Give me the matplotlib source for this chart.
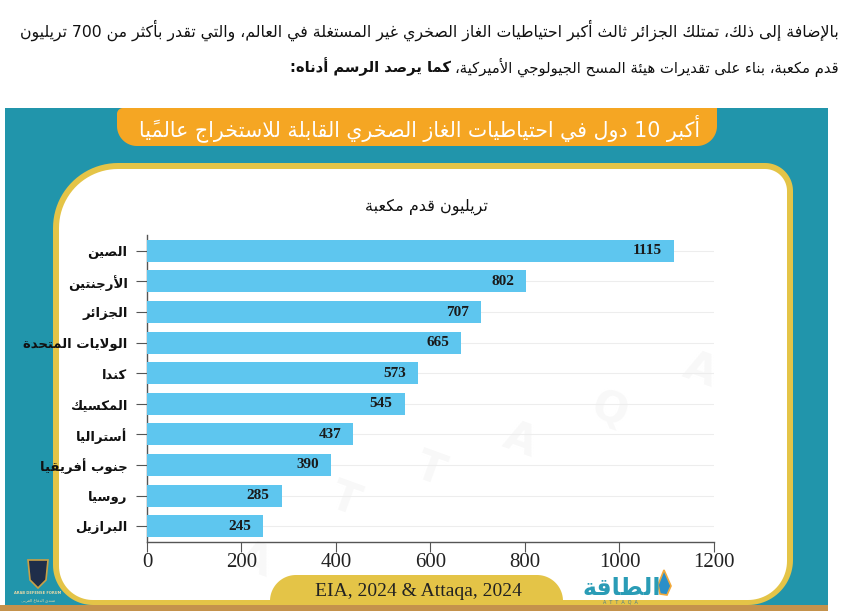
import numpy as np
import matplotlib
matplotlib.use("Agg")
import matplotlib.pyplot as plt
from matplotlib.patches import Polygon, Rectangle

# ---------------- data ----------------
countries = ["الصين", "الأرجنتين", "الجزائر", "الولايات المتحدة", "كندا",
             "المكسيك", "أستراليا", "جنوب أفريقيا", "روسيا", "البرازيل"]
reserves = [1115, 802, 707, 665, 573, 545, 437, 390, 285, 245]
x_ticks = [0, 200, 400, 600, 800, 1000, 1200]

title_text = "أكبر 10 دول في احتياطيات الغاز الصخري القابلة للاستخراج عالميًا"
unit_text = "تريليون قدم مكعبة"
para_line1 = "بالإضافة إلى ذلك، تمتلك الجزائر ثالث أكبر احتياطيات الغاز الصخري غير المستغلة في العالم، والتي تقدر بأكثر من 700 تريليون"
para_line2_normal = "قدم مكعبة، بناء على تقديرات هيئة المسح الجيولوجي الأميركية،"
para_line2_bold = "كما يرصد الرسم أدناه:"
source_text = "EIA, 2024 & Attaqa, 2024"
logo_text = "الطاقة"

# ---------------- minimal Arabic shaping ----------------
_T = {0x0621: (0xFE80, 1), 0x0622: (0xFE81, 2), 0x0623: (0xFE83, 2), 0x0624: (0xFE85, 2),
      0x0625: (0xFE87, 2), 0x0626: (0xFE89, 4), 0x0627: (0xFE8D, 2), 0x0628: (0xFE8F, 4),
      0x0629: (0xFE93, 2), 0x062A: (0xFE95, 4), 0x062B: (0xFE99, 4), 0x062C: (0xFE9D, 4),
      0x062D: (0xFEA1, 4), 0x062E: (0xFEA5, 4), 0x062F: (0xFEA9, 2), 0x0630: (0xFEAB, 2),
      0x0631: (0xFEAD, 2), 0x0632: (0xFEAF, 2), 0x0633: (0xFEB1, 4), 0x0634: (0xFEB5, 4),
      0x0635: (0xFEB9, 4), 0x0636: (0xFEBD, 4), 0x0637: (0xFEC1, 4), 0x0638: (0xFEC5, 4),
      0x0639: (0xFEC9, 4), 0x063A: (0xFECD, 4), 0x0641: (0xFED1, 4), 0x0642: (0xFED5, 4),
      0x0643: (0xFED9, 4), 0x0644: (0xFEDD, 4), 0x0645: (0xFEE1, 4), 0x0646: (0xFEE5, 4),
      0x0647: (0xFEE9, 4), 0x0648: (0xFEED, 2), 0x0649: (0xFEEF, 2), 0x064A: (0xFEF1, 4)}
TABLE = {chr(k): v for k, v in _T.items()}
LAMALEF = {"\u0622": (0xFEF5, 0xFEF6), "\u0623": (0xFEF7, 0xFEF8),
           "\u0625": (0xFEF9, 0xFEFA), "\u0627": (0xFEFB, 0xFEFC)}


def _mark(c):
    return "\u064B" <= c <= "\u0652"


def _jt(c):
    if c in TABLE:
        return {4: "D", 2: "R", 1: "U"}[TABLE[c][1]]
    return "U"


def ar(s):
    ch = list(s)
    n = len(ch)
    res = []
    i = 0
    while i < n:
        c = ch[i]
        if _mark(c) or c not in TABLE:
            res.append(c)
            i += 1
            continue
        j = i - 1
        while j >= 0 and _mark(ch[j]):
            j -= 1
        prev = ch[j] if j >= 0 else None
        k = i + 1
        while k < n and _mark(ch[k]):
            k += 1
        nxt = ch[k] if k < n else None
        jp = prev is not None and _jt(prev) == "D"
        if c == "\u0644" and nxt in LAMALEF:
            iso, fin = LAMALEF[nxt]
            res.append(chr(fin if jp else iso))
            i = k + 1
            continue
        jn = nxt is not None and _jt(c) == "D" and _jt(nxt) in ("D", "R")
        base, cnt = TABLE[c]
        if cnt == 1:
            f = 0
        elif cnt == 2:
            f = 1 if jp else 0
        else:
            f = 3 if (jp and jn) else 1 if jp else 2 if jn else 0
        res.append(chr(base + f))
        i += 1
    units = []
    for c in res:
        if _mark(c) and units:
            units[-1] += c
        elif c.isascii() and c.isalnum() and units and units[-1][-1].isascii() and units[-1][-1].isalnum():
            units[-1] += c
        else:
            units.append(c)
    return "".join(reversed(units))


AR = ["DejaVu Sans"]
SERIF = ["Liberation Serif", "DejaVu Serif"]

# ---------------- figure ----------------
W, H = 854, 611
fig = plt.figure(figsize=(W / 100, H / 100), dpi=100)
fig.patch.set_facecolor("white")
bg = fig.add_axes([0, 0, 1, 1])
bg.set_xlim(0, W)
bg.set_ylim(H, 0)
bg.axis("off")
bg.set_zorder(0)


def rrect(x0, y0, x1, y1, rtl, rtr, rbr, rbl, **kw):
    pts = []

    def arc(cx, cy, r, a0, a1):
        if r <= 0:
            return [(cx, cy)]
        t = np.radians(np.linspace(a0, a1, 24))
        return list(zip(cx + r * np.cos(t), cy + r * np.sin(t)))
    pts += arc(x0 + rtl, y0 + rtl, rtl, 180, 270)
    pts += arc(x1 - rtr, y0 + rtr, rtr, 270, 360)
    pts += arc(x1 - rbr, y1 - rbr, rbr, 0, 90)
    pts += arc(x0 + rbl, y1 - rbl, rbl, 90, 180)
    p = Polygon(pts, closed=True, **kw)
    bg.add_patch(p)
    return p


TEAL = "#2195AB"
ORANGE = "#F5A623"
YELLOW = "#E4C447"
BAR = "#5EC6EF"

# teal panel
bg.add_patch(Rectangle((5, 108), 823, 498, facecolor=TEAL, edgecolor="none"))
# bottom strip
bg.add_patch(Rectangle((0, 605), 828, 6, facecolor="#C4924C", edgecolor="none"))
# title banner
rrect(117, 108, 717, 146, 6, 0, 20, 20, facecolor=ORANGE, edgecolor="none")
# card
rrect(53, 163, 793, 605, 65, 28, 45, 40, facecolor=YELLOW, edgecolor="none")
rrect(59, 169, 787, 600, 59, 22, 39, 34, facecolor="white", edgecolor="none")
# source box
rrect(270, 575, 563, 603, 26, 26, 0, 0, facecolor=YELLOW, edgecolor="none")

# very faint watermark letters
for (wx, wy, wl) in [(255, 560, "A"), (345, 500, "T"), (430, 470, "T"), (520, 440, "A"), (610, 410, "Q"), (700, 370, "A")]:
    bg.text(wx, wy, wl, fontsize=30, color="#F8F8F8", rotation=-20, ha="center", va="center",
            family=["DejaVu Sans"], fontweight="bold")

# paragraph text
t1 = bg.text(839, 30, ar(para_line1), ha="right", va="center", fontsize=11.5, family=AR, color="#111111")
t2 = bg.text(839, 67, ar(para_line2_normal), ha="right", va="center", fontsize=11.5, family=AR, color="#111111")
t3 = bg.text(839, 67, ar(para_line2_bold), ha="right", va="center", fontsize=11.5,
             family=AR, color="#111111", fontweight="bold")
fig.canvas.draw()
rend = fig.canvas.get_renderer()
w1 = t1.get_window_extent(rend).width
t1.set_fontsize(11.5 * 825 / w1)
wsum = t2.get_window_extent(rend).width + t3.get_window_extent(rend).width + 4
fs2 = 11.5 * 548 / wsum
t2.set_fontsize(fs2)
t3.set_fontsize(fs2)
fig.canvas.draw()
w2 = t2.get_window_extent(rend).width
t3.set_x(839 - w2 - 4)

# title
tt = bg.text(420, 128, ar(title_text), ha="center", va="center", fontsize=17, family=AR, color="white")
fig.canvas.draw()
wt = tt.get_window_extent(rend).width
tt.set_fontsize(17 * 560 / wt)

# unit label
bg.text(426, 207, ar(unit_text), ha="center", va="center", fontsize=11.5, family=AR, color="#111111")

# source
bg.text(418, 592, source_text, ha="center", va="center", fontsize=14, family=SERIF, color="#222222")

# logo
bg.text(622, 588, ar(logo_text), ha="center", va="center", fontsize=17, family=AR,
        color="#2A9CB6", fontweight="bold")
bg.text(620, 602, "A  T  T  A  Q  A", ha="center", va="center", fontsize=3.5, family=["DejaVu Sans"], color="#4A7C8C")
bg.add_patch(Polygon([(664, 570), (671, 586), (667, 595), (660, 594), (658, 585)], closed=True,
                     facecolor="#2A8FC9", edgecolor="#F2A93B", lw=1.2))

# Arab Defense Forum watermark (bottom-left)
bg.add_patch(Polygon([(28, 560), (48, 560), (46, 580), (38, 588), (30, 580)], closed=True,
                     facecolor="#1F2E4A", edgecolor="#C9A046", lw=1.2))
bg.text(38, 593, "ARAB DEFENSE FORUM", ha="center", va="center", fontsize=2.6, color="#E8D9A8",
        family=["DejaVu Sans"], fontweight="bold")
bg.text(38, 600, ar("منتدى الدفاع العربي"), ha="center", va="center", fontsize=3, color="#E8D9A8", family=AR)

# ---------------- chart axes ----------------
ax = fig.add_axes([147 / W, 1 - 542 / H, 567 / W, (542 - 235) / H])
ax.set_zorder(2)
ax.patch.set_alpha(0)
n = len(countries)
ypos = np.arange(n)[::-1]
ax.barh(ypos, reserves, height=0.72, color=BAR, edgecolor="none", zorder=3)
ax.set_xlim(0, 1200)
ax.set_ylim(-0.52, n - 0.48)
for y, v in zip(ypos, reserves):
    ax.text(v - 12 * 1200 / 567, y, str(v), ha="right", va="center", fontsize=11,
            fontweight="bold", family=SERIF, color="#1a1a1a", zorder=4)
ax.set_yticks(ypos)
ax.set_yticklabels([ar(c) for c in countries], fontsize=9.5, fontweight="bold", family=AR, color="#111111")
ax.set_xticks(x_ticks)
ax.set_xticklabels([str(t) for t in x_ticks], fontsize=15, family=SERIF, color="#222222")
ax.grid(axis="y", color="#EDEDED", lw=0.8, zorder=0)
ax.set_axisbelow(True)
for s in ["top", "right"]:
    ax.spines[s].set_visible(False)
for s in ["left", "bottom"]:
    ax.spines[s].set_color("#555555")
    ax.spines[s].set_linewidth(1.0)
ax.tick_params(axis="x", length=7, color="#555555", pad=1)
ax.tick_params(axis="y", length=8, color="#555555", pad=6)

fig.savefig("out.png", dpi=100)
